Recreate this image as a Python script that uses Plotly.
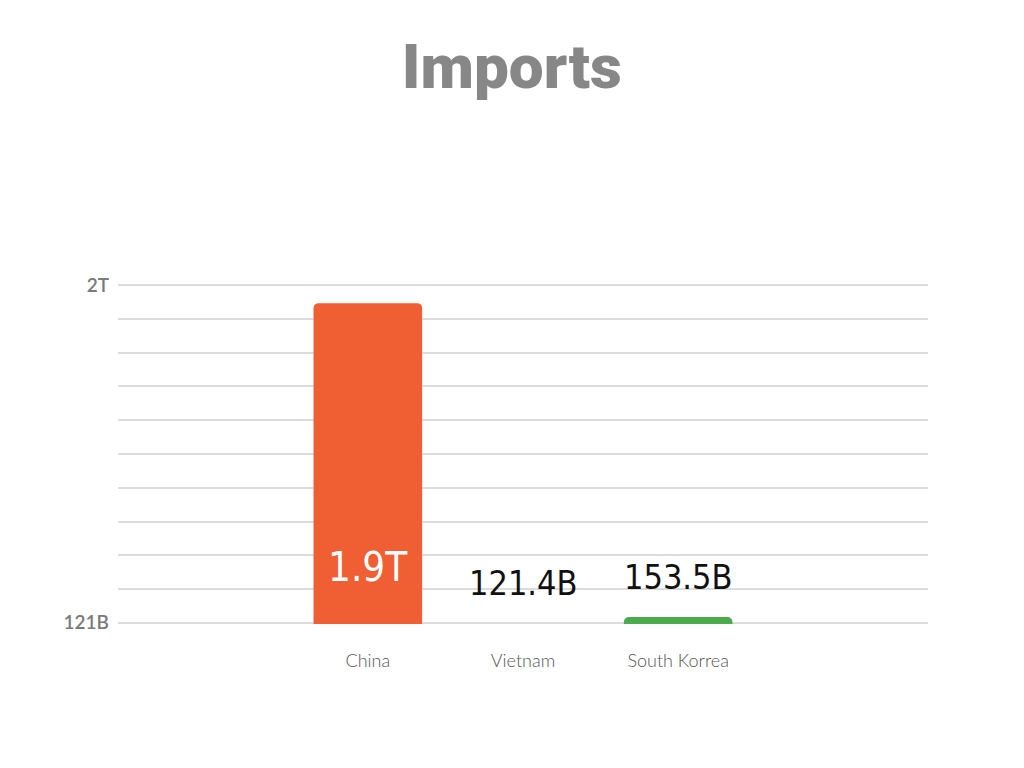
import plotly.graph_objects as go

countries = ["China", "Vietnam", "South Korrea"]
imports = [1.9e12, 121.4e9, 153.5e9]
value_labels = ["1.9T", "121.4B", "153.5B"]
bar_colors = ["#F05E33", "#DCDCDC", "#4BAA4B"]
label_colors = ["#FFFFFF", "#111111", "#111111"]

y_min = 121e9
y_max = 2e12
n_grid = 10
grid_vals = [y_min + (y_max - y_min) * k / n_grid for k in range(n_grid + 1)]
grid_text = ["121B"] + [""] * (n_grid - 1) + ["2T"]
pad = (y_max - y_min) * 0.0035  # plotly drops gridlines within 1px of the edges

fig = go.Figure()
fig.add_trace(go.Bar(
    x=countries,
    y=imports,
    width=0.7,
    marker=dict(color=bar_colors, cornerradius=5, line=dict(width=0)),
    hoverinfo="skip",
))

# value labels: inside the big bar, just above the small ones
for c, v, t, col in zip(countries, imports, value_labels, label_colors):
    inside = v > (y_min + y_max) / 2
    fig.add_annotation(
        x=c,
        y=y_min if inside else v,
        yanchor="bottom",
        yshift=31 if inside else 18,
        text=t,
        showarrow=False,
        font=dict(family="DejaVu Sans Condensed, Liberation Sans Narrow, sans-serif",
                  size=40 if inside else 34, color=col, weight=300),
    )

fig.update_layout(
    width=1024,
    height=768,
    paper_bgcolor="white",
    plot_bgcolor="white",
    showlegend=False,
    margin=dict(l=110, r=104, t=276, b=152),
    title=dict(
        text="Imports",
        x=0.492,
        xanchor="center",
        y=0.952,
        yanchor="top",
        font=dict(family="Roboto, Inter, sans-serif", size=62, color="#878787", weight=900),
    ),
    xaxis=dict(
        type="category",
        range=[-1.61, 3.61],
        showgrid=False,
        showline=False,
        ticks="",
        tickfont=dict(family="Lato", size=18, color="#555555", weight=300),
        ticklabelstandoff=24,
    ),
    yaxis=dict(
        range=[y_min - pad, y_max + pad],
        tickvals=grid_vals,
        ticktext=grid_text,
        showgrid=True,
        gridcolor="#DCDCDC",
        gridwidth=1.5,
        zeroline=False,
        showline=False,
        ticks="",
        tickfont=dict(family="Lato", size=19, color="#7A7A7A", weight=600),
        ticklabelstandoff=8,
    ),
)

fig.write_html("out.html")
